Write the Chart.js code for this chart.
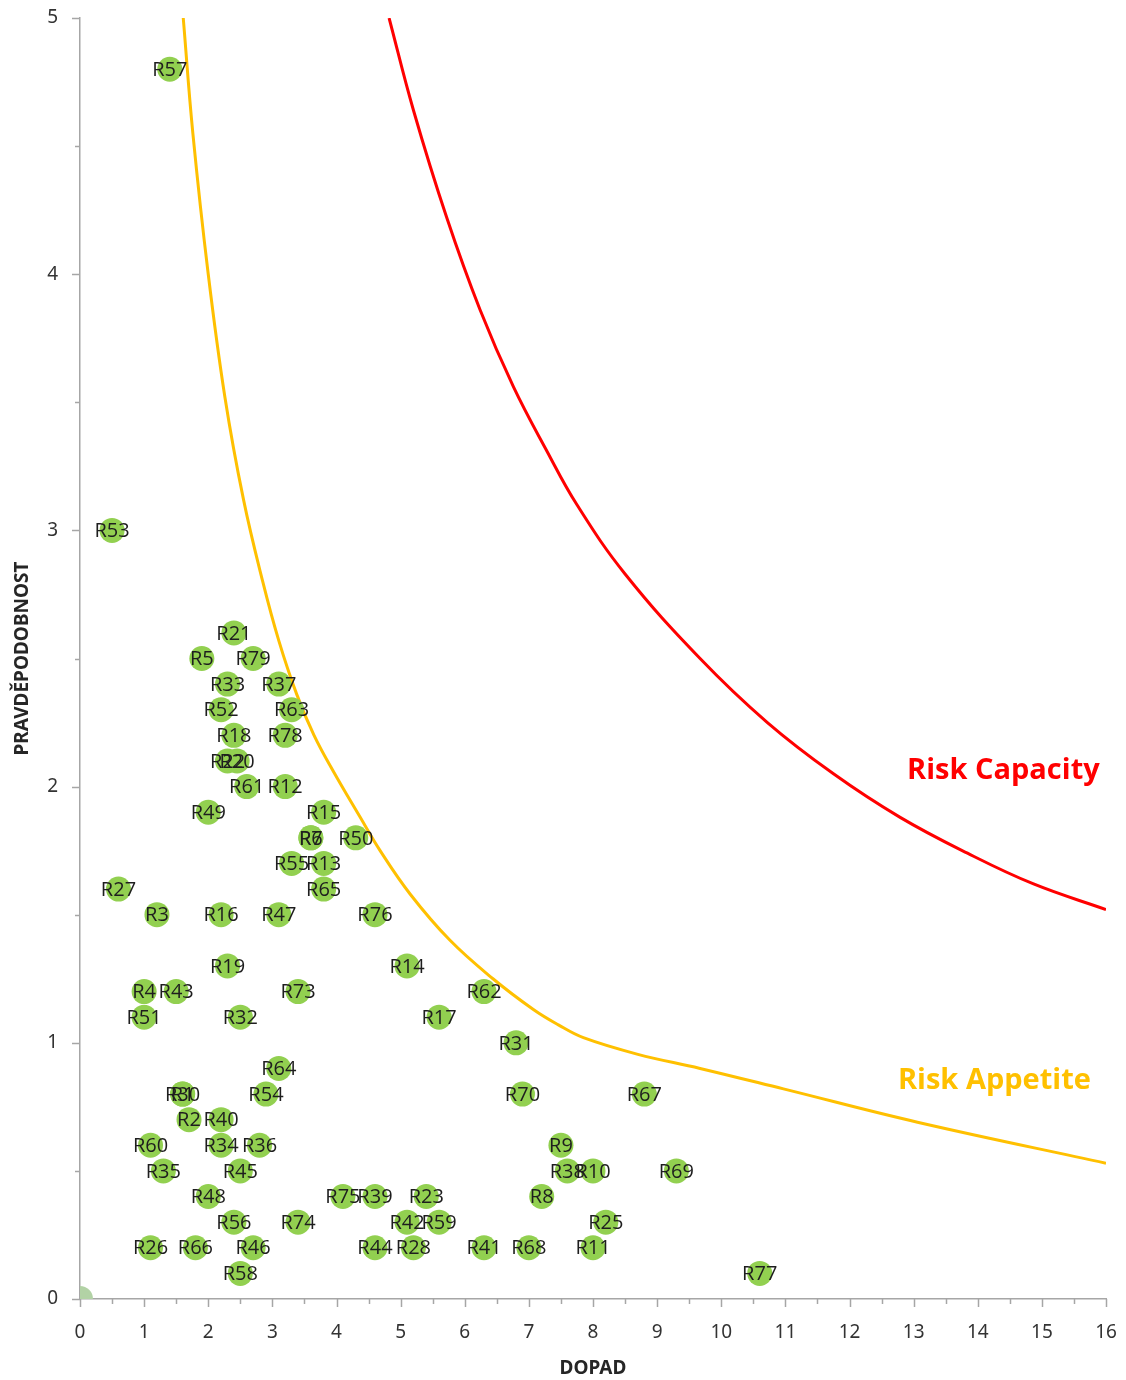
<!DOCTYPE html>
<html>
<head>
<meta charset="utf-8">
<script src="https://cdn.jsdelivr.net/npm/chart.js@4/dist/chart.umd.min.js"></script>
<style>
  body { margin: 0; background: #fff; }
  #wrap { width: 1126px; height: 1380px; position: relative; }
</style>
</head>
<body>
<div id="wrap"><canvas id="riskChart"></canvas></div>
<script>
// risks: name, impact (DOPAD), probability (PRAVDEPODOBNOST)
const riskNames = ['R57','R53','R21','R5','R79','R33','R37','R52','R63','R18','R78','R22','R20','R61','R12','R49','R15','R6','R7','R50',
    'R55','R13','R65','R27','R3','R16','R47','R76','R19','R14','R4','R43','R73','R62','R51','R32','R17','R31','R64','R1',
    'R30','R54','R70','R67','R2','R40','R60','R34','R36','R9','R35','R45','R38','R10','R69','R48','R75','R39','R23','R8',
    'R56','R74','R42','R59','R25','R26','R66','R46','R44','R28','R41','R68','R11','R58','R77'];
const riskImpact = [1.4,0.5,2.4,1.9,2.7,2.3,3.1,2.2,3.3,2.4,3.2,2.3,2.45,2.6,3.2,2.0,3.8,3.6,3.6,4.3,
    3.3,3.8,3.8,0.6,1.2,2.2,3.1,4.6,2.3,5.1,1.0,1.5,3.4,6.3,1.0,2.5,5.6,6.8,3.1,1.6,
    1.6,2.9,6.9,8.8,1.7,2.2,1.1,2.2,2.8,7.5,1.3,2.5,7.6,8.0,9.3,2.0,4.1,4.6,5.4,7.2,
    2.4,3.4,5.1,5.6,8.2,1.1,1.8,2.7,4.6,5.2,6.3,7.0,8.0,2.5,10.6];
const riskProb = [4.8,3.0,2.6,2.5,2.5,2.4,2.4,2.3,2.3,2.2,2.2,2.1,2.1,2.0,2.0,1.9,1.9,1.8,1.8,1.8,
    1.7,1.7,1.6,1.6,1.5,1.5,1.5,1.5,1.3,1.3,1.2,1.2,1.2,1.2,1.1,1.1,1.1,1.0,0.9,0.8,
    0.8,0.8,0.8,0.8,0.7,0.7,0.6,0.6,0.6,0.6,0.5,0.5,0.5,0.5,0.5,0.4,0.4,0.4,0.4,0.4,
    0.3,0.3,0.3,0.3,0.3,0.2,0.2,0.2,0.2,0.2,0.2,0.2,0.2,0.1,0.1];

// boundary curves
const appetiteX = [1.61,1.76,2.0,2.26,2.55,2.85,3.1,3.38,3.65,3.95,4.37,4.68,5.15,5.77,6.44,7.07,7.46,7.85,8.7,9.67,10.97,13.06,16.0];
const appetiteY = [5.0,4.55,4.0,3.52,3.12,2.8,2.57,2.36,2.2,2.06,1.88,1.75,1.58,1.4,1.25,1.13,1.07,1.02,0.955,0.9,0.82,0.69,0.53];
const capacityX = [4.82,5.2,5.72,6.24,6.76,7.28,7.75,8.5,9.67,10.72,11.75,12.79,13.84,14.87,16.0];
const capacityY = [5.0,4.64,4.22,3.86,3.56,3.31,3.1,2.83,2.5,2.25,2.05,1.88,1.74,1.62,1.52];

const originX = [0];
const originY = [0];

const curveLabels = [
    { text: 'Risk Capacity', x: 14.4, y: 2.06, color: '#ff0000' },
    { text: 'Risk Appetite', x: 14.26, y: 0.85, color: '#ffc000' }
];

const toPoints = function(xs, ys) {
    return xs.map((x, i) => ({ x: x, y: ys[i] }));
}

const axisColor = '#a6a6a6';
const tickFont = { family: '"Noto Sans", sans-serif', size: 19 };

// labels on the bubbles and on the curves
const labelsPlugin = {
    id: 'labelsPlugin',
    afterDatasetsDraw(chart) {
        const ctx = chart.ctx;
        const meta = chart.getDatasetMeta(0);
        ctx.save();
        ctx.font = '20px "Open Sans", sans-serif';
        ctx.fillStyle = '#1e1e1e';
        ctx.textAlign = 'center';
        ctx.textBaseline = 'middle';
        meta.data.forEach((pt, i) => {
            ctx.fillText(riskNames[i], pt.x, pt.y + 1);
        });
        ctx.font = 'bold 29px "Open Sans", sans-serif';
        curveLabels.forEach(l => {
            ctx.fillStyle = l.color;
            ctx.fillText(l.text, chart.scales.x.getPixelForValue(l.x), chart.scales.y.getPixelForValue(l.y));
        });
        ctx.restore();
    }
};

// axis tick marks, major on integers, minor on halves
const ticksPlugin = {
    id: 'ticksPlugin',
    afterDraw(chart) {
        const ctx = chart.ctx;
        const xs = chart.scales.x, ys = chart.scales.y;
        ctx.save();
        ctx.strokeStyle = axisColor;
        ctx.lineWidth = 1.5;
        ctx.beginPath();
        xs.ticks.forEach(t => {
            const px = Math.round(xs.getPixelForValue(t.value)) + 0.5;
            const len = Number.isInteger(t.value) ? 8 : 5;
            ctx.moveTo(px, ys.bottom);
            ctx.lineTo(px, ys.bottom + len);
        });
        ys.ticks.forEach(t => {
            const py = Math.round(ys.getPixelForValue(t.value)) + 0.5;
            const len = Number.isInteger(t.value) ? 8 : 5;
            ctx.moveTo(xs.left, py);
            ctx.lineTo(xs.left - len, py);
        });
        ctx.stroke();
        ctx.restore();
    }
};

// invisible grid ticks only used to push the tick labels away from the axis
const hiddenGrid = { display: true, drawOnChartArea: false, drawTicks: true, tickLength: 20, tickColor: 'rgba(0,0,0,0)' };

const ctx = document.getElementById('riskChart');
const riskChart = new Chart(ctx, {
    type: 'scatter',
    data: {
        datasets: [
            {
                label: 'Rizika',
                data: toPoints(riskImpact, riskProb),
                backgroundColor: '#92d050',
                borderWidth: 0,
                pointRadius: 12.5,
                pointHoverRadius: 12.5
            },
            {
                label: 'Origin',
                data: toPoints(originX, originY),
                backgroundColor: 'rgb(178,210,165)',
                borderWidth: 0,
                pointRadius: 13,
                clip: 0
            },
            {
                label: 'Risk Appetite',
                type: 'line',
                data: toPoints(appetiteX, appetiteY),
                borderColor: '#ffc000',
                borderWidth: 3,
                pointRadius: 0,
                tension: 0.4,
                fill: false,
                clip: 0
            },
            {
                label: 'Risk Capacity',
                type: 'line',
                data: toPoints(capacityX, capacityY),
                borderColor: '#ff0000',
                borderWidth: 3,
                pointRadius: 0,
                tension: 0.4,
                fill: false,
                clip: 0
            }
        ]
    },
    options: {
        responsive: true,
        maintainAspectRatio: false,
        animation: false,
        layout: { padding: { left: 0, top: 18, right: 20, bottom: 0 } },
        plugins: {
            legend: { display: false },
            tooltip: { enabled: false }
        },
        scales: {
            x: {
                type: 'linear',
                min: 0,
                max: 16,
                afterFit: function(scale) { scale.height = 81; },
                border: { display: true, color: axisColor, width: 1.5 },
                grid: hiddenGrid,
                ticks: {
                    stepSize: 0.5,
                    autoSkip: false,
                    maxRotation: 0,
                    padding: 2,
                    color: '#333333',
                    font: tickFont,
                    callback: v => Number.isInteger(v) ? v : ''
                },
                title: {
                    display: true,
                    text: 'DOPAD',
                    color: '#262626',
                    font: { family: '"Noto Sans", sans-serif', size: 19, weight: 'bold' },
                    padding: { top: 0, bottom: 0 }
                }
            },
            y: {
                type: 'linear',
                min: 0,
                max: 5,
                afterFit: function(scale) { scale.width = 80; },
                border: { display: true, color: axisColor, width: 1.5 },
                grid: hiddenGrid,
                ticks: {
                    stepSize: 0.5,
                    autoSkip: false,
                    padding: 2,
                    color: '#333333',
                    font: tickFont,
                    callback: v => Number.isInteger(v) ? v : ''
                },
                title: {
                    display: true,
                    text: 'PRAVDĚPODOBNOST',
                    color: '#262626',
                    font: { family: '"Noto Sans", sans-serif', size: 19, weight: 'bold' },
                    padding: { top: 11, bottom: 0 }
                }
            }
        }
    },
    plugins: [labelsPlugin, ticksPlugin]
});
</script>
</body>
</html>
